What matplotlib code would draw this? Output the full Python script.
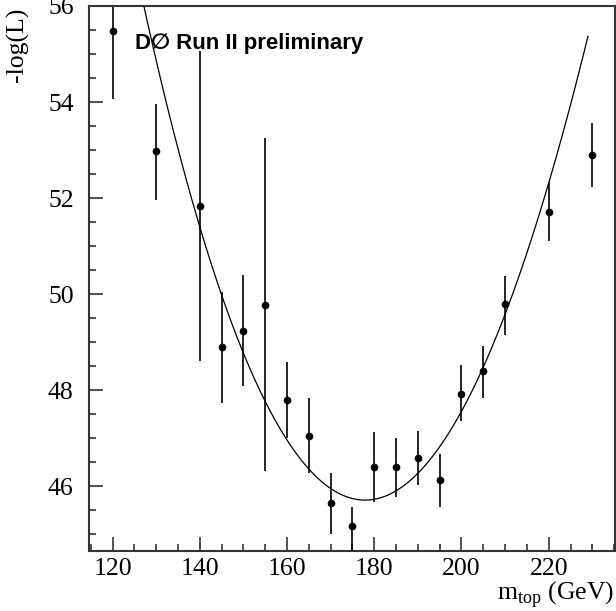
import numpy as np
import matplotlib
matplotlib.use("Agg")
import matplotlib.pyplot as plt
from matplotlib.ticker import MultipleLocator

# top mass points and -log(L) values
mass = [120, 130, 140, 145, 150, 155, 160, 165, 170, 175, 180, 185, 190, 195, 200, 205, 210, 220, 230]
nll = [55.48, 52.98, 51.84, 48.90, 49.24, 49.78, 47.79, 47.04, 45.64, 45.17,
       46.40, 46.39, 46.59, 46.12, 47.93, 48.40, 49.80, 51.71, 52.90]
err_up = [1.42, 0.98, 3.23, 1.15, 1.16, 3.47, 0.79, 0.79, 0.63, 0.39,
          0.72, 0.61, 0.56, 0.55, 0.59, 0.52, 0.58, 0.62, 0.66]
err_down = [1.42, 1.02, 3.23, 1.16, 1.16, 3.47, 0.79, 0.77, 0.64, 0.50,
            0.73, 0.61, 0.57, 0.55, 0.58, 0.57, 0.65, 0.61, 0.67]

# fitted curve: cubic around its minimum
fit_m0 = 177.9
fit_min = 45.71
fit_a2 = 0.00385
fit_a3 = -2.96e-6
fit_range = (120, 229)

plt.rcParams['mathtext.fontset'] = 'custom'
plt.rcParams['mathtext.rm'] = 'Liberation Serif'
serif = 'Liberation Serif'

fig = plt.figure(figsize=(6.16, 6.11), dpi=100)
ax = fig.add_axes([89/616, 60/611, 526/616, 545/611])

m = np.linspace(fit_range[0], fit_range[1], 300)
d = m - fit_m0
ax.plot(m, fit_min + fit_a2*d**2 + fit_a3*d**3, color='black', lw=0.9)

ax.errorbar(mass, nll, yerr=[err_down, err_up], fmt='o', color='black',
            ms=4.5, elinewidth=1.2, capsize=0)

ax.set_xlim(114.6, 235.2)
ax.set_ylim(44.65, 56.0)
ax.xaxis.set_major_locator(MultipleLocator(20))
ax.xaxis.set_minor_locator(MultipleLocator(5))
ax.yaxis.set_major_locator(MultipleLocator(2))
ax.yaxis.set_minor_locator(MultipleLocator(0.5))
ax.tick_params(which='both', direction='in', width=1.2, color='#333333')
ax.tick_params(which='major', length=10)
ax.tick_params(which='minor', length=5)
ax.tick_params(axis='x', pad=5)
ax.tick_params(axis='y', pad=11)
for lab in ax.get_xticklabels() + ax.get_yticklabels():
    lab.set_fontfamily(serif)
    lab.set_fontsize(18.5)
for sp in ax.spines.values():
    sp.set_linewidth(1.5)
    sp.set_color('#333333')

ax.text(135/616, 1 - 49/611, 'D\u2205 Run II preliminary', transform=fig.transFigure,
        fontsize=16, fontweight='bold', family=['Liberation Sans', 'DejaVu Sans'],
        ha='left', va='baseline')

fig.text(17/616, 1 - 8/611, '-log(L)', rotation=90, ha='center', va='top',
         fontsize=18.5, family=serif)
fig.text(614/616, 0.5/611, r'm$_{\mathrm{top}}$ (GeV)', ha='right', va='bottom',
         fontsize=18.5, family=serif)

fig.savefig('out.png', dpi=100)
